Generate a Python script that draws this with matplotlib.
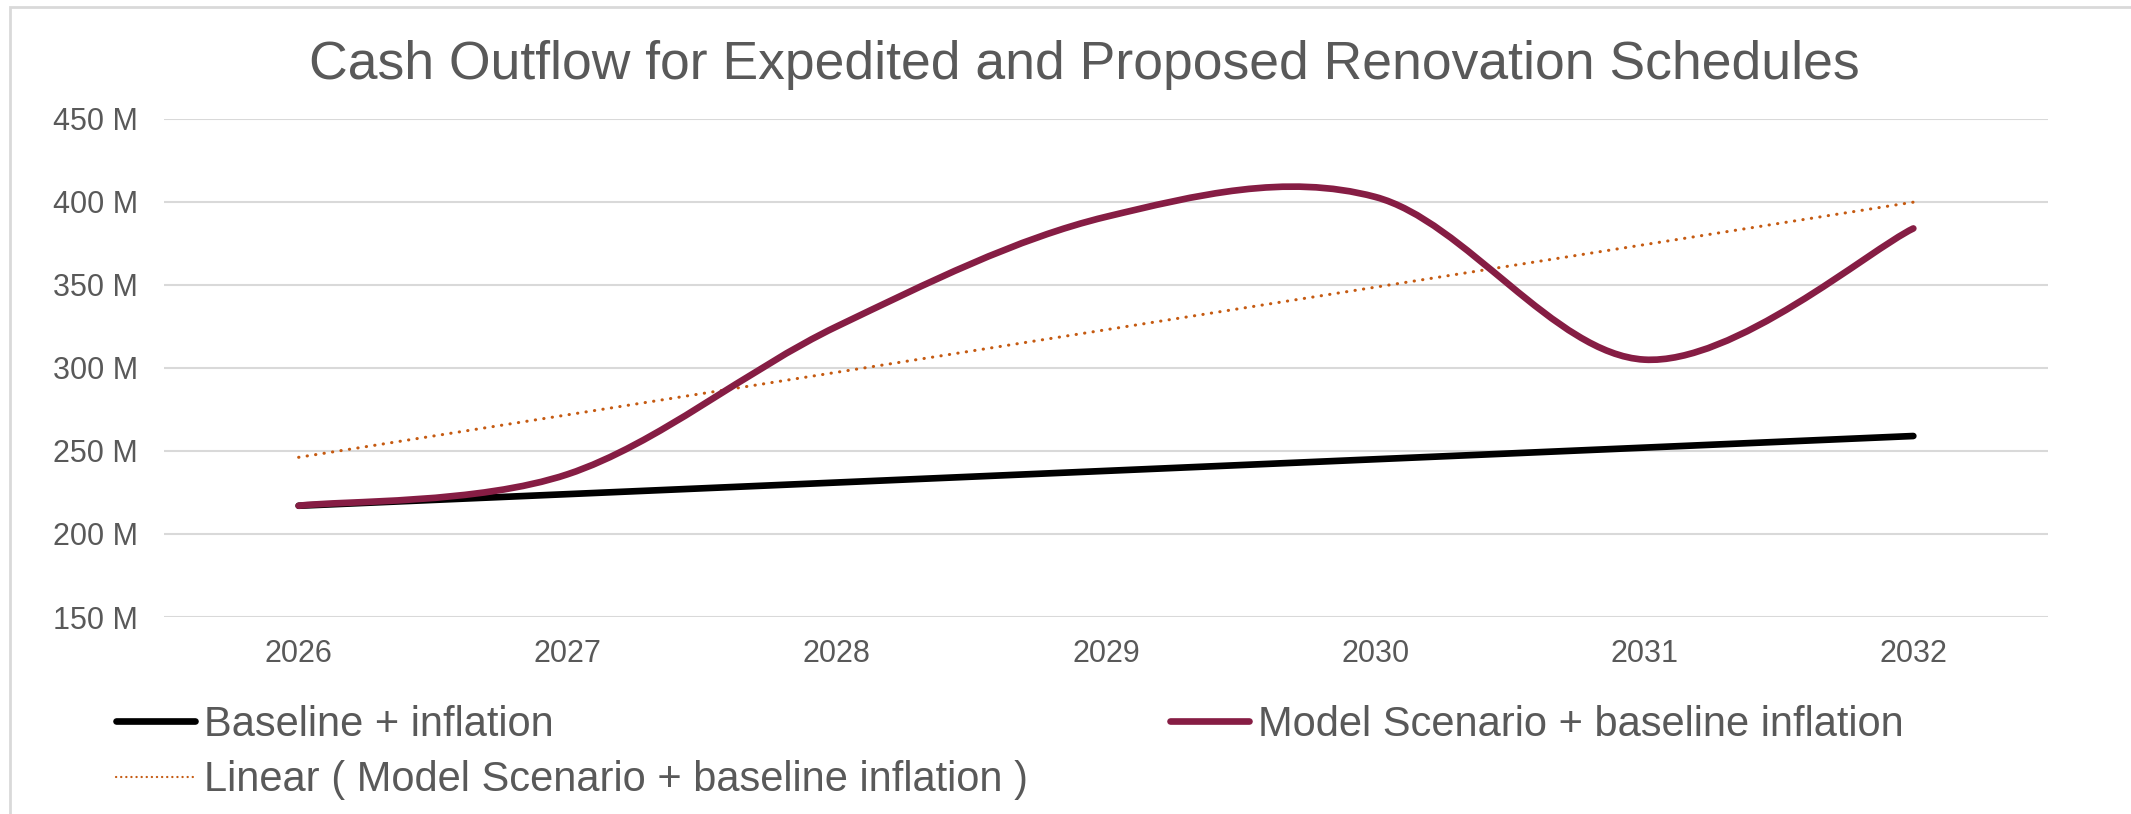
import numpy as np
import matplotlib
matplotlib.use("Agg")
import matplotlib.pyplot as plt
from matplotlib.path import Path
from matplotlib.patches import PathPatch, Rectangle
from matplotlib.lines import Line2D

plt.rcParams['font.family'] = ['Liberation Sans', 'DejaVu Sans']

# values in millions
years = ['2026', '2027', '2028', '2029', '2030', '2031', '2032']
baseline = [217, 224, 231, 238, 245, 252, 259]
model = [217, 236, 325, 391, 403, 305, 384]
y_ticks = [150, 200, 250, 300, 350, 400, 450]

GREY = '#595959'
MODEL_COLOR = '#861D44'
TREND_COLOR = '#C55A11'


def smooth_path(xs, ys):
    # excel-style smoothed line: cubic bezier segments with catmull-rom control points
    pts = np.column_stack([xs, ys]).astype(float)
    n = len(pts)
    verts = [pts[0]]
    codes = [Path.MOVETO]
    for i in range(n - 1):
        p_prev = pts[i - 1] if i > 0 else pts[i]
        p_next2 = pts[i + 2] if i + 2 < n else pts[i + 1]
        c1 = pts[i] + (pts[i + 1] - p_prev) / 6
        c2 = pts[i + 1] - (p_next2 - pts[i]) / 6
        verts += [c1, c2, pts[i + 1]]
        codes += [Path.CURVE4] * 3
    return Path(verts, codes)


fig = plt.figure(figsize=(21.31, 8.14), dpi=100)
ax = fig.add_axes([0.077, 0.242, 0.884, 0.612])

x = np.arange(len(years))

# linear trend of the model scenario
slope, intercept = np.polyfit(x, model, 1)
ax.plot(x, slope * x + intercept, color=TREND_COLOR, lw=2.2,
        linestyle=(0, (0.1, 2.7)), dash_capstyle='round', zorder=3)

ax.plot(x, baseline, color='black', lw=4.8, solid_capstyle='round', zorder=4)

ax.add_patch(PathPatch(smooth_path(x, model), facecolor='none', edgecolor=MODEL_COLOR,
                       lw=4.8, capstyle='round', joinstyle='round', zorder=5))

ax.set_xlim(-0.5, len(years) - 0.5)
ax.set_ylim(150, 450)
ax.set_xticks(x)
ax.set_xticklabels(years)
ax.set_yticks(y_ticks)
ax.set_yticklabels([f'{v} M' for v in y_ticks])
ax.tick_params(length=0, labelsize=22, labelcolor=GREY)
ax.tick_params(axis='y', pad=19)
ax.tick_params(axis='x', pad=16)
ax.grid(axis='y', color='#D9D9D9', lw=1.5)
ax.set_axisbelow(True)
for s in ax.spines.values():
    s.set_visible(False)

fig.text(0.5087, 0.92, 'Cash Outflow for Expedited and Proposed Renovation Schedules',
         ha='center', va='center', fontsize=38.5, color=GREY)

handles = [
    Line2D([], [], color='black', lw=4.8, solid_capstyle='round'),
    Line2D([], [], color=TREND_COLOR, lw=1.6, linestyle=(0, (0.1, 2.2)), dash_capstyle='round'),
    Line2D([], [], color=MODEL_COLOR, lw=4.8, solid_capstyle='round'),
]
labels = ['Baseline + inflation',
          'Linear ( Model Scenario + baseline inflation )',
          'Model Scenario + baseline inflation']
fig.legend(handles, labels, loc='upper left', bbox_to_anchor=(116 / 2131, 1 - 705 / 814),
           ncol=2, frameon=False, fontsize=30, labelcolor=GREY, handlelength=1.9,
           handletextpad=0.22, columnspacing=3.4, labelspacing=0.37, borderpad=0,
           borderaxespad=0)

# light chart-area border (cut off at right and bottom like the screenshot)
fig.patches.append(Rectangle((10 / 2131, -0.1), 1.2, 1 - 7 / 814 + 0.1,
                             transform=fig.transFigure, fill=False,
                             edgecolor='#D9D9D9', lw=2))

fig.savefig('out.png', dpi=100)
